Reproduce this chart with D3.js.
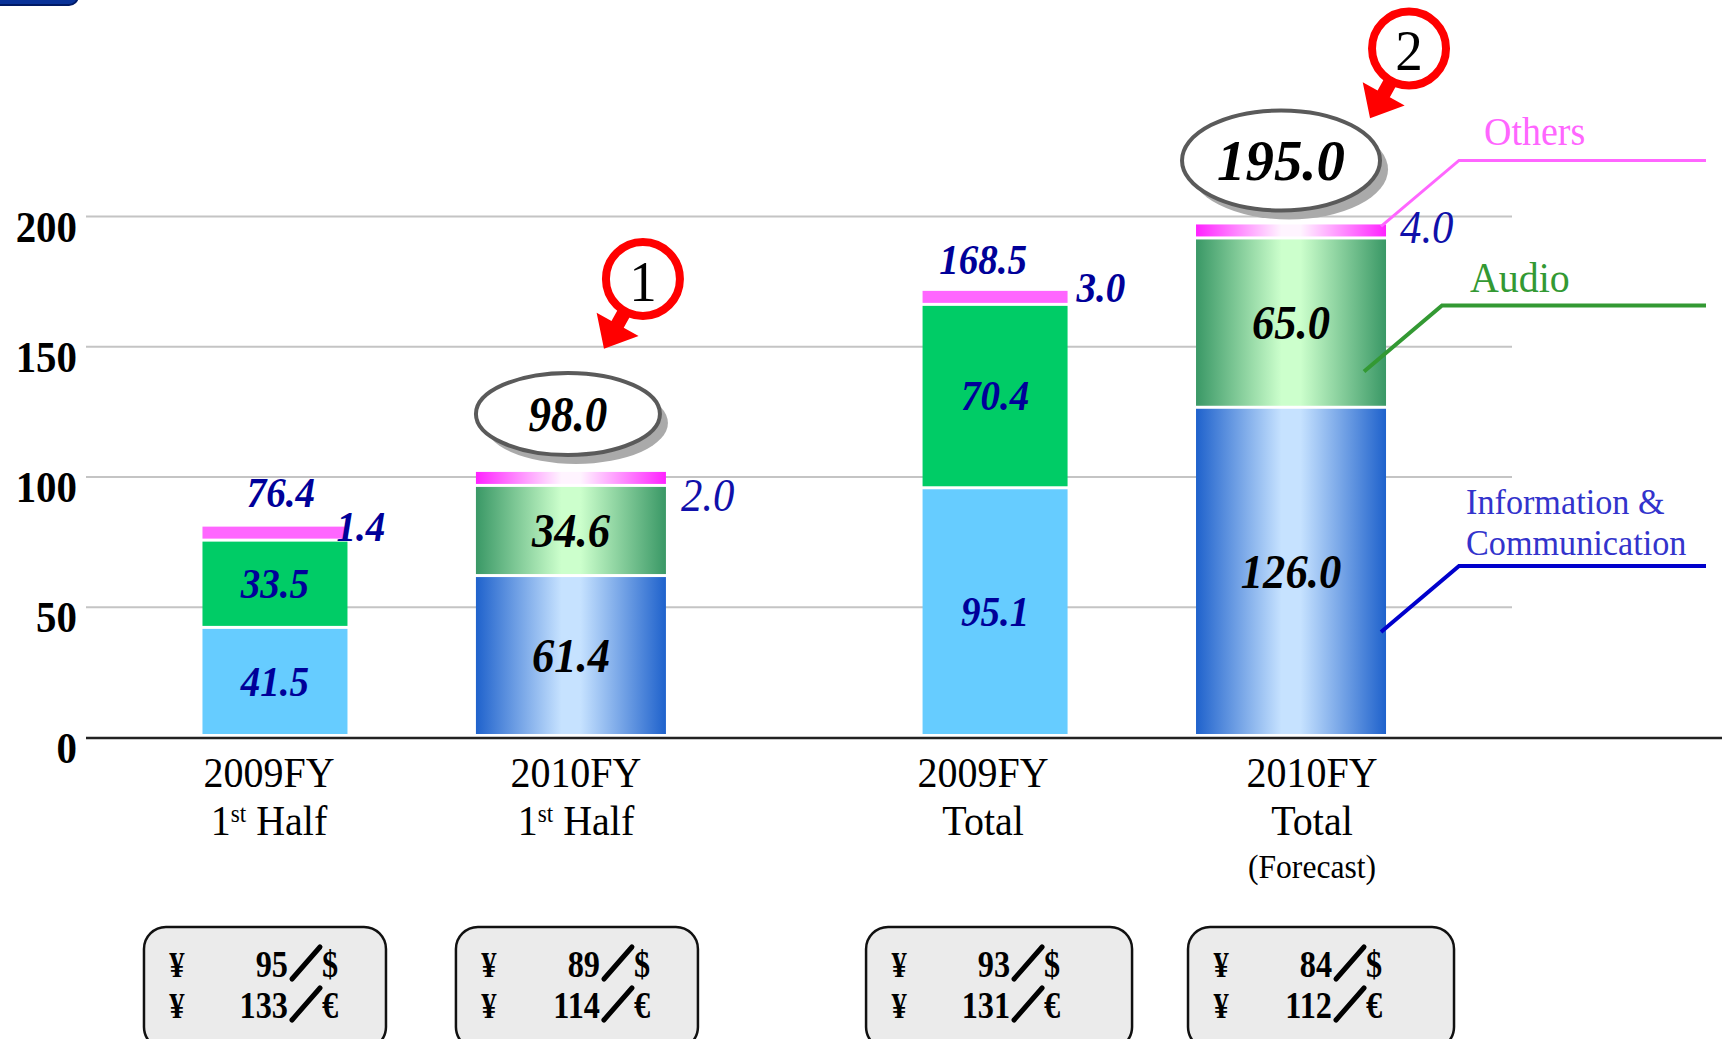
<!DOCTYPE html>
<html>
<head>
<meta charset="utf-8">
<script src="https://cdn.jsdelivr.net/npm/d3@7"></script>
<style>
body{margin:0;background:#fff;}
svg{display:block;}
</style>
</head>
<body>
<svg id="drawing_region"></svg>
<script>
// values (billion yen)
const years = ["2009FY","2010FY","2009FY","2010FY"];
const periods = ["1st Half","1st Half","Total","Total"];
const infoComm = [41.5,61.4,95.1,126.0];
const audio = [33.5,34.6,70.4,65.0];
const others = [1.4,2.0,3.0,4.0];
const totals = [76.4,98.0,168.5,195.0];
const forecast = [false,false,false,true];
const usdRate = [95,89,93,84];
const eurRate = [133,114,131,112];
const yTicks = [0,50,100,150,200];
const seriesKeys = ["info","audio","others"];
const seriesNames = ["Information & Communication","Audio","Others"];
const markers = ["1","2"];

const W = 1722, H = 1039;
const serif = "'Liberation Serif','Times New Roman',serif";

const svg = d3.select("#drawing_region").attr("width",W).attr("height",H);
const defs = svg.append("defs");

function grad(id, edge, mid){
    const g = defs.append("linearGradient").attr("id",id)
        .attr("x1","0%").attr("x2","100%").attr("y1","0%").attr("y2","0%");
    g.append("stop").attr("offset","0%").attr("stop-color",edge);
    g.append("stop").attr("offset","45%").attr("stop-color",mid);
    g.append("stop").attr("offset","55%").attr("stop-color",mid);
    g.append("stop").attr("offset","100%").attr("stop-color",edge);
}
grad("g-info","#1f62cc","#c6e2ff");
grad("g-audio","#3a9866","#ccffcc");
grad("g-others","#ff22ff","#fff4ff");

const flat = {info:"#66ccff",audio:"#00cc66",others:"#ff66ff"};
const lineCol = {info:"#0000cc",audio:"#339933",others:"#ff66ff"};
const textCol = {info:"#3333cc",audio:"#339933",others:"#ff66ff"};

function label(g,x,y,txt,o){
    return g.append("text")
        .attr("transform",`translate(${x},${y}) scale(${o.sx||0.93},1)`)
        .attr("text-anchor",o.anchor||"middle")
        .attr("font-family",serif)
        .attr("font-size",o.size)
        .attr("font-weight",o.weight||"normal")
        .attr("font-style",o.style||"normal")
        .attr("fill",o.fill||"#000")
        .text(txt);
}

// top-left corner piece of the slide header
svg.append("rect").attr("x",-20).attr("y",-30).attr("width",98).attr("height",35)
    .attr("rx",9).attr("fill","#0a3399").attr("stroke","#001a66").attr("stroke-width",2);

const data = years.map((yr,i)=>({year:yr,period:periods[i],info:infoComm[i],audio:audio[i],others:others[i],total:totals[i]}));

const x0 = d3.scaleBand().domain(["1st Half","Total"]).range([127,1439]).paddingInner(0.178);
const x1 = d3.scaleBand().domain(["2009FY","2010FY"]).range([0,x0.bandwidth()]);
const y = d3.scaleLinear().domain([0,200]).range([737,216]);
const cx = i => x0(periods[i]) + x1(years[i]) + x1.bandwidth()/2;
const barW = i => years[i]==="2009FY" ? 145 : 190;

// grid + tick labels
const yAxis = d3.axisLeft(y).tickValues(yTicks).tickSize(-(1512-86)).tickFormat(d3.format("d"));
const yg = svg.append("g").attr("transform","translate(86,0)").call(yAxis);
yg.select(".domain").remove();
yg.selectAll(".tick line").attr("stroke",d=>d===0?"none":"#c4c4c4").attr("stroke-width",2);
yg.selectAll(".tick text")
    .attr("x",null).attr("dy",null)
    .attr("transform","translate(-9,25) scale(0.93,1)")
    .attr("font-family",serif).attr("font-size",44).attr("font-weight","bold").attr("fill","#000");

svg.append("line").attr("x1",86).attr("x2",W).attr("y1",y(0)+1).attr("y2",y(0)+1)
    .attr("stroke","#222").attr("stroke-width",2.5);

// stacked bars
const stack = d3.stack().keys(seriesKeys)(data);
const gap = 3;
const segs = [];
stack.forEach(s=>{
    s.forEach((d,i)=>{
        const bottom = y(d[0]) - gap;
        let h = y(d[0]) - y(d[1]) - gap;
        if(s.key==="others") h = Math.max(h,12);
        segs.push({key:s.key,i:i,x:cx(i)-barW(i)/2,w:barW(i),top:bottom-h,h:h,val:d.data[s.key]});
    });
});
svg.append("g").selectAll("rect").data(segs).enter().append("rect")
    .attr("x",d=>d.x).attr("y",d=>d.top).attr("width",d=>d.w).attr("height",d=>d.h)
    .attr("fill",d=>years[d.i]==="2010FY" ? `url(#g-${d.key})` : flat[d.key]);

// values inside segments
const lab = svg.append("g");
segs.filter(d=>d.key!=="others").forEach(d=>{
    const is10 = years[d.i]==="2010FY";
    const size = is10 ? 48 : 42;
    label(lab, cx(d.i), d.top + d.h/2 + 0.34*size, d.val.toFixed(1),
        {size:size,weight:"bold",style:"italic",fill:is10?"#000":"#000099"});
});

// others values, next to the thin pink segment
const othersDx = [-11,15,9,14], othersDy = [2,27,-1,7];
segs.filter(d=>d.key==="others").forEach(d=>{
    const is10 = years[d.i]==="2010FY";
    label(lab, d.x + d.w + othersDx[d.i], d.top + d.h + othersDy[d.i], d.val.toFixed(1),
        {size:is10?46:42, anchor:"start", weight:is10?"normal":"bold", style:"italic", fill:is10?"#1010aa":"#000099"});
});

// totals
const pinkTop = i => segs.find(s=>s.key==="others" && s.i===i).top;
data.forEach((d,i)=>{
    if(d.year==="2009FY"){
        label(lab, cx(i)+(i===0?6:-12), pinkTop(i)-(i===0?20:17), d.total.toFixed(1),
            {size:42,weight:"bold",style:"italic",fill:"#000099"});
    } else {
        const big = forecast[i];
        const ex = cx(i) - (big?10:3), ey = pinkTop(i) - (big?64:58);
        const rx = big?99:92, ry = big?50:41, fs = big?58:50;
        lab.append("ellipse").attr("cx",ex+8).attr("cy",ey+9).attr("rx",rx).attr("ry",ry).attr("fill","#aaaaaa");
        lab.append("ellipse").attr("cx",ex).attr("cy",ey).attr("rx",rx).attr("ry",ry)
            .attr("fill","#fff").attr("stroke","#5a5a5a").attr("stroke-width",4);
        label(lab, ex, ey + 0.34*fs, d.total.toFixed(1),
            {size:fs,weight:"bold",style:"italic",sx:big?0.98:0.9});
    }
});

// red numbered callouts
const callIdx = data.map((d,i)=>i).filter(i=>years[i]==="2010FY");
const callDx = [72,118], callDy = [-193,-176];
callIdx.forEach((i,k)=>{
    const c = [cx(i)+callDx[k], pinkTop(i)+callDy[k]];
    const d = [-0.487,0.874], n = [0.874,0.487];
    const P = (s,t)=>[c[0]+d[0]*s+n[0]*t, c[1]+d[1]*s+n[1]*t];
    const pts = [P(34,-7),P(52,-7),P(52,-24),P(80,0),P(52,24),P(52,7),P(34,7)];
    svg.append("polygon").attr("points",pts.map(p=>p.join(",")).join(" ")).attr("fill","#ff0000");
    svg.append("circle").attr("cx",c[0]).attr("cy",c[1]).attr("r",37)
        .attr("fill","#fff").attr("stroke","#ff0000").attr("stroke-width",8);
    label(svg, c[0], c[1]+22, markers[k], {size:58, sx:0.95});
});

// category labels
const labelDx = [-6,5,-12,21];
const axg = svg.append("g");
data.forEach((d,i)=>{
    const lx = cx(i)+labelDx[i];
    label(axg, lx, 787, d.year, {size:43});
    if(d.period==="1st Half"){
        const t = label(axg, lx, 835, "", {size:43});
        t.text(null);
        t.append("tspan").text("1");
        t.append("tspan").attr("font-size",25).attr("dy",-13).text("st");
        t.append("tspan").attr("dy",13).text(" Half");
    } else {
        label(axg, lx, 835, d.period, {size:43});
    }
    if(forecast[i]) label(axg, lx, 878, "(Forecast)", {size:34});
});

// series legend with leader lines
const i4 = data.length-1;
const seg4 = k => segs.find(s=>s.key===k && s.i===i4);
const legend = [
    {key:"others", start:[seg4("others").x+seg4("others").w-5, seg4("others").top+2], lines:[seriesNames[2]], lx:1484, ly:[145], fs:40},
    {key:"audio", start:[seg4("audio").x+seg4("audio").w-22, y(infoComm[i4]+audio[i4]*0.22)], lines:[seriesNames[1]], lx:1470, ly:[292], fs:42},
    {key:"info", start:[seg4("info").x+seg4("info").w-5, y(infoComm[i4]*0.32)], lines:seriesNames[0].split(/(?<=&) /), lx:1466, ly:[514,555], fs:36}
];
legend.forEach(l=>{
    const e = [l.start[0]+78, l.start[1]-66];
    svg.append("polyline")
        .attr("points",[l.start,e,[1706,e[1]]].map(p=>p.join(",")).join(" "))
        .attr("fill","none").attr("stroke",lineCol[l.key]).attr("stroke-width",l.key==="others"?3:4);
    l.lines.forEach((t,j)=>label(svg,l.lx,l.ly[j],t,{size:l.fs,anchor:"start",sx:0.95,fill:textCol[l.key]}));
});

// exchange rate boxes
const boxDx = [-10,6,4,30];
const bg = svg.append("g");
data.forEach((d,i)=>{
    const bw = d.period==="Total" ? 266 : 242;
    const bx = cx(i)+boxDx[i]-bw/2;
    bg.append("rect").attr("x",bx).attr("y",927).attr("width",bw).attr("height",122).attr("rx",22)
        .attr("fill","#ebebeb").attr("stroke","#111").attr("stroke-width",2.5);
    [[usdRate[i],"$",977],[eurRate[i],"€",1018]].forEach(r=>{
        const base = r[2];
        label(bg, bx+33, base, "¥", {size:36,weight:"bold",sx:0.85});
        label(bg, bx+144, base, r[0], {size:38,weight:"bold",anchor:"end",sx:0.85});
        bg.append("line").attr("x1",bx+148).attr("y1",base+2).attr("x2",bx+176).attr("y2",base-30)
            .attr("stroke","#000").attr("stroke-width",5).attr("stroke-linecap","round");
        label(bg, bx+178, base, r[1], {size:38,weight:"bold",anchor:"start",sx:0.85});
    });
});
</script>
</body>
</html>
